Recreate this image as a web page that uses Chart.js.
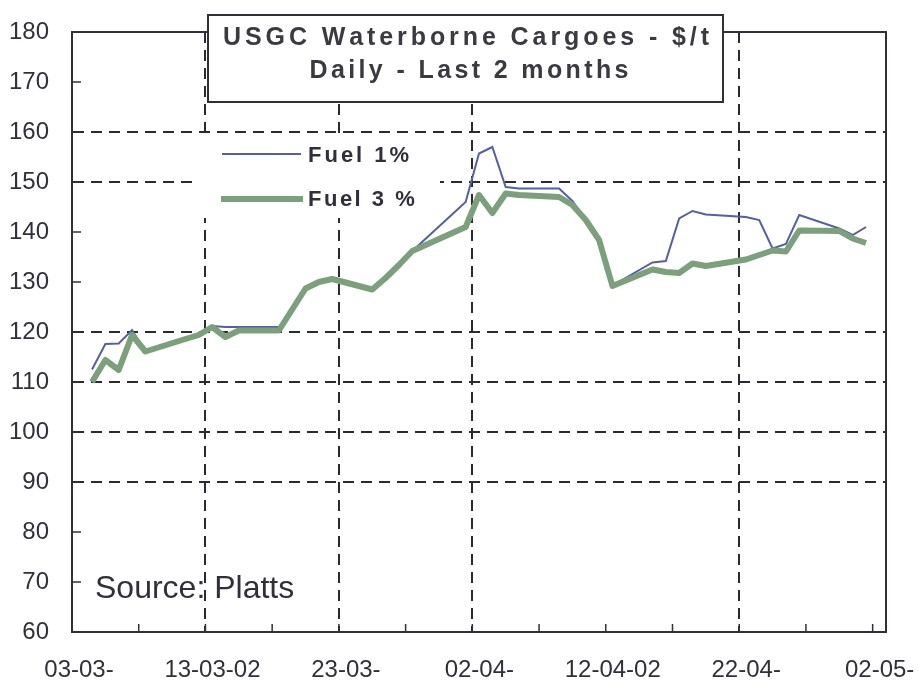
<!DOCTYPE html>
<html>
<head>
<meta charset="utf-8">
<script src="https://cdn.jsdelivr.net/npm/chart.js@4.4.1/dist/chart.umd.min.js"></script>
<style>
  html, body { margin: 0; padding: 0; background: #fff; }
  #wrap { width: 918px; height: 686px; }
</style>
</head>
<body>
<div id="wrap"><canvas id="cargoes"></canvas></div>
<script>
// trading days 2002 (dd-mm)
const dates = ['04-03','05-03','06-03','07-03','08-03',
  '11-03','12-03','13-03','14-03','15-03',
  '18-03','19-03','20-03','21-03','22-03',
  '25-03','26-03','27-03','28-03',
  '01-04','02-04','03-04','04-04','05-04',
  '08-04','09-04','10-04','11-04','12-04',
  '15-04','16-04','17-04','18-04','19-04',
  '22-04','23-04','24-04','25-04','26-04',
  '29-04','30-04','01-05'];
const fuel1 = [112.5, 117.6, 117.7, 120.4, 116.1,
  118.6, 119.6, 121.2, 121.0, 121.0,
  121.0, 124.5, 128.7, 130.0, 130.6,
  128.5, 130.8, 133.4, 136.2,
  146.0, 155.7, 157.0, 149.0, 148.7,
  148.7, 146.2, 142.5, 138.5, 129.3,
  133.9, 134.2, 142.7, 144.2, 143.5,
  143.0, 142.4, 136.7, 137.6, 143.4,
  140.7, 139.4, 141.0];
const fuel3 = [110.0, 114.4, 112.4, 119.4, 116.1,
  118.6, 119.4, 121.0, 119.0, 120.3,
  120.3, 124.5, 128.7, 130.0, 130.6,
  128.5, 130.8, 133.4, 136.2,
  141.0, 147.4, 143.8, 147.7, 147.4,
  147.0, 145.4, 142.4, 138.4, 129.2,
  132.5, 132.0, 131.8, 133.7, 133.2,
  134.5, 135.4, 136.3, 136.1, 140.3,
  140.2, 138.7, 137.8];

// x axis in days from 03-03-02
const xTickDays = [0, 5, 10, 15, 20, 25, 30, 35, 40, 45, 50, 55, 60];
const xLabelDays = [0, 10, 20, 30, 40, 50, 60];
const xLabels = ['03-03-', '13-03-02', '23-03-', '02-04-', '12-04-02', '22-04-', '02-05-'];
const xGridDays = [10, 20, 30, 50];
const yGridValues = [90, 100, 110, 120, 150, 160];

function dayOffset(s) {
  const [d, m] = s.split('-').map(Number);
  // each day sits in the middle of its slot
  return Math.round((Date.UTC(2002, m - 1, d) - Date.UTC(2002, 2, 3)) / 86400000) + 0.5;
}

const INK = '#30303a';
const GRID = '#2a2a34';

function spaced(ctx, text, x, y, spacing, align) {
  const widths = [...text].map(c => ctx.measureText(c).width);
  const total = widths.reduce((a, b) => a + b, 0) + spacing * (text.length - 1);
  let px = align === 'center' ? x - total / 2 : x;
  [...text].forEach((c, i) => {
    ctx.fillText(c, px, y);
    px += widths[i] + spacing;
  });
}

function spacedToWidth(ctx, text, cx, y, width) {
  const natural = [...text].reduce((a, c) => a + ctx.measureText(c).width, 0);
  spaced(ctx, text, cx, y, (width - natural) / (text.length - 1), 'center');
}

const decor = {
  id: 'decor',
  beforeDatasetsDraw(chart) {
    const {ctx, chartArea: a, scales: {x, y}} = chart;
    ctx.save();
    // legend background hides the grid
    ctx.fillStyle = '#fff';
    ctx.fillRect(197, 138, 243, 80);

    // inside tick marks
    ctx.strokeStyle = INK;
    ctx.lineWidth = 1.5;
    ctx.beginPath();
    y.ticks.forEach(t => {
      const py = y.getPixelForValue(t.value);
      ctx.moveTo(a.left, py); ctx.lineTo(a.left + 9, py);
    });
    x.ticks.forEach(t => {
      const px = x.getPixelForValue(t.value);
      ctx.moveTo(px, a.bottom); ctx.lineTo(px, a.bottom - 8);
    });
    ctx.stroke();

    // plot frame
    ctx.lineWidth = 2;
    ctx.strokeRect(a.left, a.top, a.right - a.left, a.bottom - a.top);

    // legend
    ctx.lineCap = 'butt';
    ctx.strokeStyle = '#5560a0';
    ctx.lineWidth = 2;
    ctx.beginPath(); ctx.moveTo(222, 154); ctx.lineTo(301, 154); ctx.stroke();
    ctx.strokeStyle = '#7c9f7c';
    ctx.lineWidth = 6;
    ctx.beginPath(); ctx.moveTo(221, 199); ctx.lineTo(303, 199); ctx.stroke();
    ctx.fillStyle = INK;
    ctx.font = 'bold 22px "Liberation Sans", Arial, sans-serif';
    ctx.textBaseline = 'middle';
    spaced(ctx, 'Fuel 1%', 308, 156, 3, 'left');
    spaced(ctx, 'Fuel 3 %', 308, 200, 2.5, 'left');

    // source note
    ctx.font = '32px "Liberation Sans", Arial, sans-serif';
    ctx.textBaseline = 'alphabetic';
    ctx.fillText('Source: Platts', 95, 598);
    ctx.restore();
  },
  afterDraw(chart) {
    const {ctx} = chart;
    ctx.save();
    ctx.fillStyle = '#fff';
    ctx.fillRect(208, 15, 515, 87);
    ctx.strokeStyle = INK;
    ctx.lineWidth = 2;
    ctx.strokeRect(208, 15, 515, 87);
    ctx.fillStyle = '#3a3a40';
    ctx.font = 'bold 25px "Liberation Sans", Arial, sans-serif';
    ctx.textBaseline = 'middle';
    spacedToWidth(ctx, 'USGC Waterborne Cargoes - $/t', 466, 38, 486);
    spacedToWidth(ctx, 'Daily - Last 2 months', 469, 71, 319);
    ctx.restore();
  }
};

new Chart(document.getElementById('cargoes'), {
  type: 'line',
  data: {
    datasets: [
      {
        label: 'Fuel 1%',
        data: dates.map((d, i) => ({x: dayOffset(d), y: fuel1[i]})),
        borderColor: '#5560a0',
        borderWidth: 2,
        pointRadius: 0,
        tension: 0,
        order: 2
      },
      {
        label: 'Fuel 3 %',
        data: dates.map((d, i) => ({x: dayOffset(d), y: fuel3[i]})),
        borderColor: '#7c9f7c',
        borderWidth: 6,
        borderJoinStyle: 'round',
        pointRadius: 0,
        tension: 0,
        order: 1
      }
    ]
  },
  options: {
    responsive: true,
    maintainAspectRatio: false,
    animation: false,
    layout: {padding: {top: 32, right: 32, left: 0, bottom: 0}},
    plugins: {legend: {display: false}, tooltip: {enabled: false}},
    scales: {
      x: {
        type: 'linear',
        min: 0,
        max: 61,
        afterBuildTicks: axis => { axis.ticks = xTickDays.map(v => ({value: v})); },
        afterFit: axis => {
          axis.height = 54;
          axis.paddingLeft = 0;
          axis.paddingRight = 0;
        },
        grid: {
          color: c => xGridDays.includes(c.tick && c.tick.value) ? GRID : 'transparent',
          lineWidth: 2,
          drawTicks: false
        },
        border: {display: true, color: INK, width: 2, dash: [11, 7]},
        ticks: {
          autoSkip: false,
          maxRotation: 0,
          padding: 24,
          labelOffset: 7,
          color: INK,
          font: {family: '"Liberation Sans", Arial, sans-serif', size: 24},
          callback: v => {
            const i = xLabelDays.indexOf(v);
            return i >= 0 ? xLabels[i] : '';
          }
        }
      },
      y: {
        min: 60,
        max: 180,
        afterFit: axis => {
          axis.width = 72;
          axis.paddingTop = 0;
          axis.paddingBottom = 0;
        },
        grid: {
          color: c => yGridValues.includes(c.tick && c.tick.value) ? GRID : 'transparent',
          lineWidth: 2,
          drawTicks: false
        },
        border: {display: true, color: INK, width: 2, dash: [11, 7]},
        ticks: {
          stepSize: 10,
          padding: 23,
          color: INK,
          font: {family: '"Liberation Sans", Arial, sans-serif', size: 24}
        }
      }
    }
  },
  plugins: [decor]
});
</script>
</body>
</html>
